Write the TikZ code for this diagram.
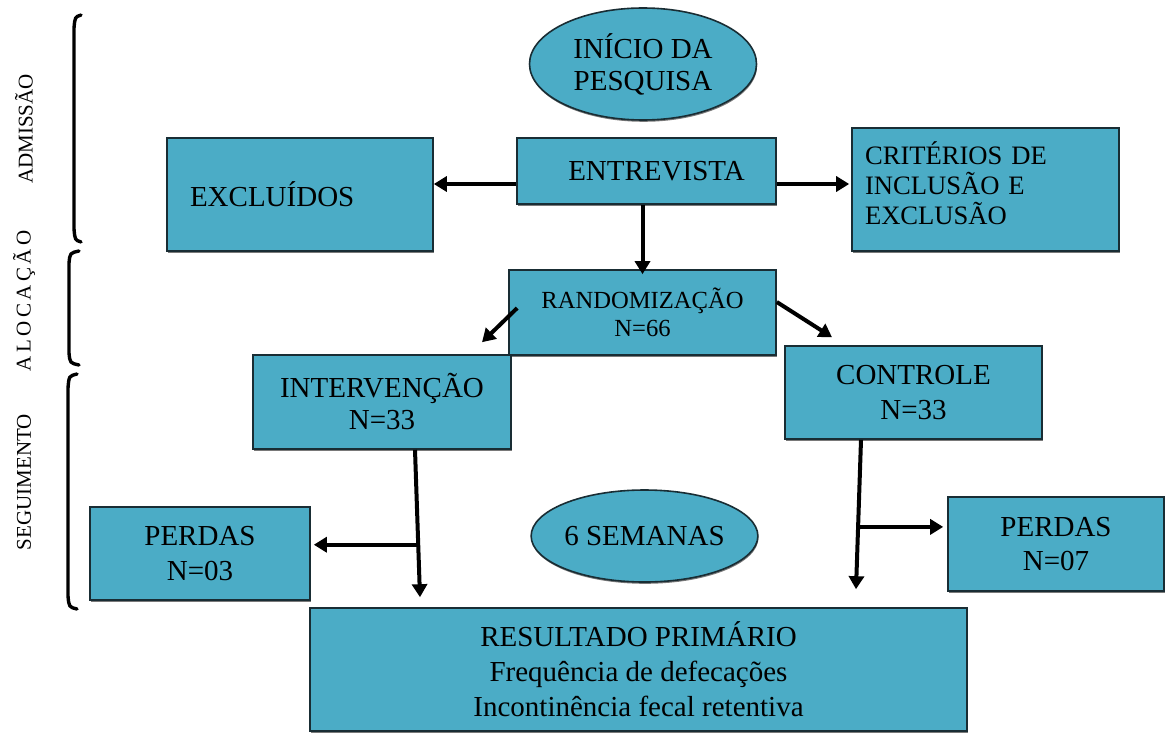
\documentclass[tikz,border=0pt]{standalone}
\usepackage{fontspec}
\setmainfont{Liberation Serif}
\usetikzlibrary{shapes.geometric,arrows.meta,shadows,calc}
\definecolor{boxblue}{RGB}{75,172,198}
\definecolor{boxline}{RGB}{25,45,52}
\tikzset{
  base/.style={draw=boxline, fill=boxblue, line width=0.8pt,
    drop shadow={shadow xshift=0.3pt, shadow yshift=-0.9pt, opacity=0.7, fill=black!75},
    inner sep=0pt, align=center},
  bx/.style args={#1x#2}{base, rectangle, minimum width=#1*0.5pt, minimum height=#2*0.5pt},
  el/.style args={#1x#2}{base, ellipse, minimum width=#1*0.5pt, minimum height=#2*0.5pt},
  big/.style={font=\fontsize{14.5}{16}\selectfont},
  arr/.style={line width=2pt, -{Triangle[length=6.5pt,width=7.5pt]}},
  brk/.style={line width=1.7pt, line cap=round},
  side/.style={rotate=90, font=\fontsize{10.5}{12}\selectfont}
}
\begin{document}
\begin{tikzpicture}[x=0.5pt,y=-0.5pt]
\useasboundingbox (0,0) rectangle (1165,733);

% nodes
\node[el=227x112, big, font=\fontsize{14.5}{16}\selectfont] (inicio) at (643,64) {IN\'ICIO DA\\PESQUISA};
\node[bx=259x66, big] (entrev) at (646.5,171) {\hspace{10pt}\raisebox{-3pt}{ENTREVISTA}};
\node[bx=266x113, big, text width=110pt, align=left, inner xsep=11.5pt] (excl) at (300,194.5) {EXCLU\'IDOS};
\node[bx=267x123, font=\fontsize{13.3}{15}\selectfont, text width=120.5pt, align=left, inner xsep=6.5pt] (crit) at (985.5,189.5) {CRIT\'ERIOS DE\\INCLUS\~AO E\\EXCLUS\~AO\\[-9pt]\mbox{}};
\node[bx=267x85, font=\fontsize{12.3}{14}\selectfont] (rand) at (642.5,312.5) {RANDOMIZA\c{C}\~AO\\N=66};
\node[bx=258x94, big] (interv) at (382,402) {INTERVEN\c{C}\~AO\\N=33};
\node[bx=257x93, font=\fontsize{14.5}{17.5}\selectfont] (contr) at (913.5,392.5) {CONTROLE\\N=33};
\node[bx=220x93, font=\fontsize{14.5}{17.5}\selectfont] (perd1) at (200,553.5) {PERDAS\\N=03};
\node[el=213x92, big] (sem) at (644.5,536) {6 SEMANAS};
\node[bx=216x94, font=\fontsize{14.5}{17}\selectfont] (perd2) at (1056,544) {PERDAS\\N=07};
\node[bx=657x123, font=\fontsize{14.5}{17.5}\selectfont] (res) at (638.5,669.5) {RESULTADO PRIM\'ARIO\\Frequ\^encia de defeca\c{c}\~oes\\Incontin\^encia fecal retentiva};

% side labels
\node[side] (ladm) at (24,129) {ADMISS\~AO};
\node[side] (laloc) at (24,301) {A\,L\,O\,C\,A\,\c{C}\,\~A\,O};
\node[side] (lseg) at (24,482) {SEGUIMENTO};

% brackets
\draw[brk] (81,15) .. controls (75,17) .. (74,28) -- (74,229) .. controls (75,240) .. (81,242);
\draw[brk] (79,251) .. controls (70,253) .. (69,263) -- (69,353) .. controls (70,363) .. (79,365);
\draw[brk] (77,374) .. controls (69,376) .. (68,388) -- (68,596) .. controls (69,607) .. (77,609);

% connectors
\draw[arr] ([yshift=-6.5pt]entrev.west) -- ([yshift=-6.5pt]entrev.west -| excl.east);
\draw[arr] ([yshift=-6.5pt]entrev.east) -- ([yshift=-6.5pt,xshift=-1pt]entrev.east -| crit.west);
\draw[arr, shorten >=-2.5pt] (rand.north |- entrev.south) -- (rand.north);
\draw[arr] ([xshift=4.5pt,yshift=2.25pt]rand.west) -- ([xshift=50pt,yshift=6pt]interv.north);
\draw[arr] ([yshift=5.25pt]rand.east) -- ([xshift=-40.75pt,yshift=4pt]contr.north);

\coordinate (i1) at ([xshift=16.5pt]interv.south);
\coordinate (i2) at ([xshift=-109.25pt,yshift=5pt]res.north);
\draw[arr] (i1) -- (i2);
\coordinate (ib) at ($(i1)!0.644!(i2)$);
\draw[arr, shorten >=1.5pt] (ib) -- (ib -| perd1.east);

\coordinate (c1) at ([xshift=-26.25pt]contr.south);
\coordinate (c2) at ([xshift=108.75pt,yshift=9pt]res.north);
\draw[arr] (c1) -- (c2);
\coordinate (cb) at ($(c1)!0.583!(c2)$);
\draw[arr, shorten >=2pt] (cb) -- (cb -| perd2.west);
\end{tikzpicture}
\end{document}
